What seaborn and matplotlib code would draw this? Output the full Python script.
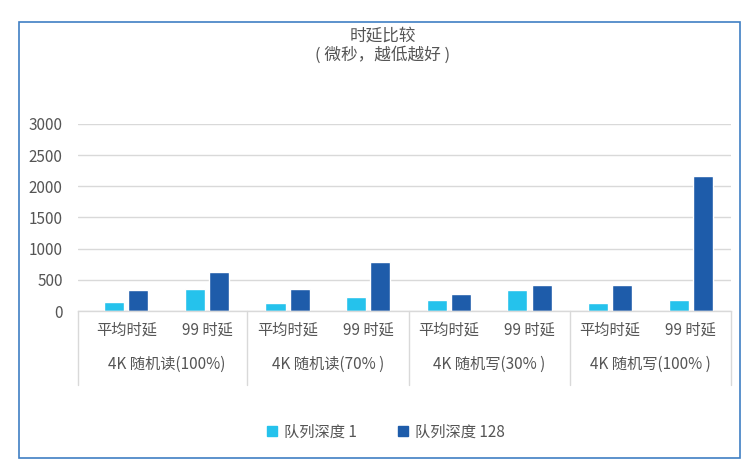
import pandas as pd
import matplotlib.pyplot as plt
import seaborn as sns
from matplotlib.patches import Rectangle
from matplotlib.lines import Line2D

# data
workloads = ["4K 随机读(100%)", "4K 随机读(70% )", "4K 随机写(30% )", "4K 随机写(100% )"]
metrics = ["平均时延", "99 时延"]
series = ["队列深度 1", "队列深度 128"]
qd1 = [150, 345, 130, 230, 180, 330, 130, 180]
qd128 = [330, 620, 345, 785, 280, 410, 410, 2170]
y_ticks = [0, 500, 1000, 1500, 2000, 2500, 3000]
colors = ["#25C2EC", "#1E5CAA"]

TEXT = "#555555"
GRID = "#d9d9d9"


def build_frame():
    rows = []
    slots = []
    for w_i, w in enumerate(workloads):
        for m_i, m in enumerate(metrics):
            slot = f"{w}|{m}"
            slots.append(slot)
            idx = w_i * len(metrics) + m_i
            rows.append({"slot": slot, "series": series[0], "value": qd1[idx]})
            rows.append({"slot": slot, "series": series[1], "value": qd128[idx]})
    return pd.DataFrame(rows), slots


def main():
    df, slots = build_frame()

    sns.set_theme(style="white")
    plt.rcParams["font.family"] = ["Noto Sans CJK SC", "DejaVu Sans"]

    W, H = 756, 470
    fig = plt.figure(figsize=(W / 100, H / 100), dpi=100)
    ax = fig.add_axes([78 / W, 1 - 311 / H, (731 - 78) / W, (311 - 124) / H])

    sns.barplot(
        data=df, x="slot", y="value", hue="series",
        order=slots, hue_order=series, palette=colors,
        width=0.6, gap=0.17, saturation=1, legend=False, ax=ax,
    )

    ax.set_xlim(-0.6, 7.5)
    ax.set_ylim(0, 3000)
    ax.set_yticks(y_ticks)
    ax.set_xticks([])
    ax.set_xlabel("")
    ax.set_ylabel("")
    ax.yaxis.grid(True, color=GRID, linewidth=1)
    ax.set_axisbelow(True)
    for side in ["left", "right", "top"]:
        ax.spines[side].set_visible(False)
    ax.spines["bottom"].set_color(GRID)
    ax.spines["bottom"].set_linewidth(1)
    ax.tick_params(axis="y", length=0, labelsize=11, labelcolor=TEXT, pad=11)

    # two-level category axis
    ah = 311 - 124
    tr = ax.get_xaxis_transform()
    for i in range(len(slots)):
        ax.text(i, -19 / ah, metrics[i % 2], transform=tr, ha="center", va="center",
                fontsize=11, color=TEXT)
    for g, w in enumerate(workloads):
        ax.text(2 * g + 0.5, -53 / ah, w, transform=tr, ha="center", va="center",
                fontsize=11, color=TEXT)
    for xd in [-0.6, 1.5, 3.5, 5.5, 7.5]:
        ax.add_line(Line2D([xd, xd], [0, -74 / ah], transform=tr, color=GRID,
                           linewidth=1, clip_on=False))

    fig.text(0.5 + 5 / W, 1 - 37 / H, "时延比较", ha="center", va="center",
             fontsize=12, color=TEXT)
    fig.text(0.5 + 5 / W, 1 - 55 / H, "( 微秒，越低越好 )", ha="center", va="center",
             fontsize=12, color=TEXT)

    handles = [
        Line2D([], [], marker="s", linestyle="", color=c, markersize=7.5, label=s)
        for c, s in zip(colors, series)
    ]
    fig.legend(handles=handles, loc="center", bbox_to_anchor=(385 / W, 1 - 432 / H),
               ncol=2, frameon=False, fontsize=11, labelcolor=TEXT,
               handlelength=0.9, handletextpad=0.3, columnspacing=2.6)

    fig.patches.append(Rectangle((19 / W, 1 - 458 / H), (740 - 19) / W, (458 - 22) / H,
                                 transform=fig.transFigure, fill=False,
                                 edgecolor="#3F7FC4", linewidth=1.2))

    fig.savefig("out.png", dpi=100)


if __name__ == "__main__":
    main()
